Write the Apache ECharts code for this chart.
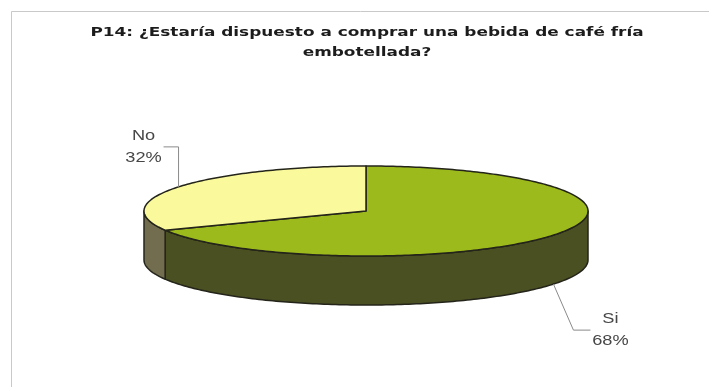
<!DOCTYPE html>
<html>
<head>
<meta charset="utf-8">
<script src="https://cdn.jsdelivr.net/npm/echarts@6/dist/echarts.min.js"></script>
<style>
  html, body { margin: 0; padding: 0; background: #fff; }
  #chart { width: 709px; height: 387px; }
</style>
</head>
<body>
<div id="chart"></div>
<script>
// Survey answers
const categories = ['Si', 'No'];
const values = [68, 32];
const titleLines = [
  'P14: ¿Estaría dispuesto a comprar una bebida de café fría',
  'embotellada?'
];

// Drawing style
const topColors = ['#9cba1c', '#fafa9c'];
const sideColors = ['#4a5021', '#736d50'];
const outline = '#24241a';
const pie = { cx: 366, cy: 211, rx: 222, ry: 45, depth: 49 };
const textStretch = 1.3;

const total = values.reduce((s, v) => s + v, 0);

function pt(deg, dy) {
  const r = deg * Math.PI / 180;
  return [pie.cx + pie.rx * Math.cos(r), pie.cy - pie.ry * Math.sin(r) + (dy || 0)];
}
function arc(from, to, dy) {
  const n = Math.max(2, Math.ceil(Math.abs(to - from) / 1) + 1);
  const pts = [];
  for (let k = 0; k < n; k++) pts.push(pt(from + (to - from) * k / (n - 1), dy));
  return pts;
}

function renderItem(params, api) {
  const i = params.dataIndex;
  const v = api.value(1);
  let before = 0;
  for (let j = 0; j < i; j++) before += values[j];
  // slices run clockwise from 12 o'clock
  const t0 = 90 - before / total * 360;
  const t1 = 90 - (before + v) / total * 360;
  const children = [];

  // visible front wall (lower half of the ellipse)
  [0, -360].forEach(k => {
    const lo = Math.max(t1, -180 + k);
    const hi = Math.min(t0, 0 + k);
    if (lo < hi) {
      const upper = arc(hi, lo, 0);
      const lower = arc(lo, hi, pie.depth);
      children.push({
        type: 'polygon', z2: 1,
        shape: { points: upper.concat(lower) },
        style: { fill: sideColors[i], stroke: outline, lineWidth: 1.5, lineJoin: 'round' }
      });
    }
  });

  // top face
  children.push({
    type: 'polygon', z2: 2,
    shape: { points: [[pie.cx, pie.cy]].concat(arc(t0, t1, 0)) },
    style: { fill: topColors[i], stroke: outline, lineWidth: 1.5, lineJoin: 'round' }
  });

  // label with leader line
  const mid = (t0 + t1) / 2;
  const upperHalf = Math.sin(mid * Math.PI / 180) > 0;
  const a = upperHalf ? pt(mid, 0) : pt(mid, pie.depth);
  let elbow, end, tx;
  if (upperHalf) {
    elbow = [a[0], a[1] - 40];
    end = [a[0] - 15, a[1] - 40];
    tx = end[0] - 20;
  } else {
    elbow = [a[0] + 20, a[1] + 46];
    end = [a[0] + 37, a[1] + 46];
    tx = end[0] + 20;
  }
  children.push({
    type: 'polyline', z2: 3,
    shape: { points: [a, elbow, end] },
    style: { stroke: '#8a8a8a', lineWidth: 1, fill: null }
  });
  const pct = Math.round(v / total * 100) + '%';
  children.push({
    type: 'text', z2: 4,
    x: tx, y: end[1], scaleX: textStretch,
    style: {
      text: categories[i] + '\n' + pct,
      x: 0, y: 0,
      align: 'center', verticalAlign: 'middle',
      fontFamily: 'Liberation Sans', fontSize: 14, lineHeight: 22,
      fill: '#474747'
    }
  });

  return { type: 'group', children };
}

const chart = echarts.init(document.getElementById('chart'), null, { renderer: 'canvas' });
chart.setOption({
  backgroundColor: '#ffffff',
  animation: false,
  graphic: [
    {
      type: 'rect', z: -1,
      shape: { x: 11.5, y: 11.5, width: 760, height: 420 },
      style: { fill: null, stroke: '#c9c9c9', lineWidth: 1 }
    },
    ...titleLines.map((t, k) => ({
      type: 'text',
      x: 367, y: 33 + k * 20, scaleX: 1.3,
      style: {
        text: t, x: 0, y: 0,
        align: 'center', verticalAlign: 'middle',
        fontFamily: 'DejaVu Sans', fontWeight: 'bold', fontSize: 13,
        fill: '#1c1c1c'
      }
    }))
  ],
  series: [{
    type: 'custom',
    coordinateSystem: 'none',
    renderItem: renderItem,
    data: values.map((v, i) => [i, v])
  }]
});
</script>
</body>
</html>
